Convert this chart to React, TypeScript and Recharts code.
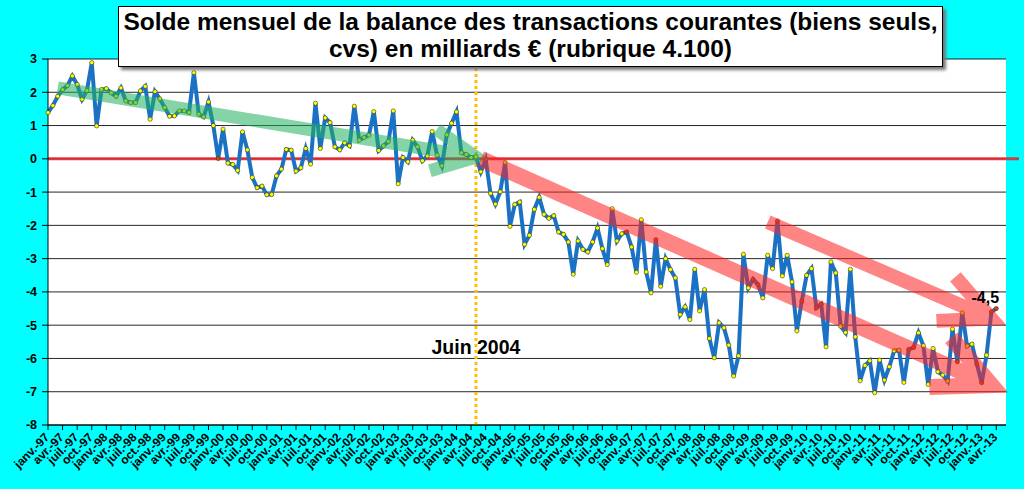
import { LineChart, Line, XAxis, YAxis, CartesianGrid, ReferenceLine } from "recharts"

const moisNoms = ["janv.", "févr.", "mars", "avr.", "mai", "juin", "juil.", "août", "sept.", "oct.", "nov.", "déc."]
const annees = ["97", "98", "99", "00", "01", "02", "03", "04", "05", "06", "07", "08", "09", "10", "11", "12", "13"]

// solde mensuel, milliards €
const solde1997 = [1.39, 1.6, 1.88, 2.08, 2.2, 2.49, 2.23, 1.79, 2.05, 2.89, 0.99, 2.08]
const solde1998 = [2.11, 1.98, 1.88, 2.13, 1.74, 1.69, 1.69, 2.04, 2.18, 1.19, 2.02, 1.8]
const solde1999 = [1.54, 1.28, 1.29, 1.44, 1.44, 1.39, 2.59, 1.34, 1.26, 1.71, 1.0, 0.01]
const solde2000 = [0.89, -0.13, -0.17, -0.35, 0.81, 0.27, -0.56, -0.87, -0.82, -1.08, -1.07, -0.51]
const solde2001 = [-0.31, 0.28, 0.26, -0.37, -0.27, 0.31, -0.16, 1.67, 0.31, 1.23, 1.09, 0.36]
const solde2002 = [0.27, 0.48, 0.39, 1.58, 0.56, 0.64, 0.71, 1.42, 0.25, 0.39, 0.52, 1.44]
const solde2003 = [-0.75, 0.04, -0.09, 0.56, 0.36, -0.06, 0.09, 0.82, 0.11, -0.21, 0.72, 1.07]
const solde2004 = [1.41, 0.18, 0.13, 0.04, 0.06, -0.39, -0.02, -1.04, -1.36, -0.99, -0.11, -2.03]
const solde2005 = [-1.37, -1.3, -2.57, -2.3, -1.52, -1.16, -1.67, -1.79, -1.71, -2.2, -2.27, -2.5]
const solde2006 = [-3.47, -2.47, -2.72, -2.8, -2.5, -2.08, -2.7, -3.18, -1.5, -2.47, -2.25, -2.2]
const solde2007 = [-2.65, -3.41, -1.83, -3.4, -4.03, -2.43, -3.83, -3.0, -3.33, -3.58, -4.68, -4.45]
const solde2008 = [-4.83, -3.32, -4.57, -3.93, -5.4, -5.98, -4.93, -5.08, -5.6, -6.53, -5.92, -2.87]
const solde2009 = [-3.88, -3.62, -3.78, -4.18, -2.9, -3.3, -1.87, -3.52, -2.9, -3.7, -5.17, -4.28]
const solde2010 = [-3.5, -3.3, -4.48, -4.37, -5.65, -3.1, -3.43, -5.03, -5.22, -3.32, -5.35, -6.67]
const solde2011 = [-6.21, -6.07, -7.03, -6.05, -6.65, -6.25, -5.77, -5.75, -6.72, -5.73, -5.67, -5.23]
const solde2012 = [-5.62, -6.78, -5.7, -6.4, -6.5, -6.68, -5.12, -6.1, -4.63, -5.63, -5.57, -6.17]
const solde2013 = [-6.73, -5.9, -4.6, -4.5]

const solde = [
  ...solde1997, ...solde1998, ...solde1999, ...solde2000, ...solde2001, ...solde2002,
  ...solde2003, ...solde2004, ...solde2005, ...solde2006, ...solde2007, ...solde2008,
  ...solde2009, ...solde2010, ...solde2011, ...solde2012, ...solde2013,
]

// points marqués en rouge
const moisRouges = ["déc.-99", "juil.-04", "déc.-06", "juin-07", "févr.-09", "mars-09", "juil.-09", "déc.-09",
  "mars-10", "avr.-10", "oct.-11", "nov.-11", "août-12", "déc.-12", "janv.-13", "mars-13", "avr.-13"]

const yTicks = [-8, -7, -6, -5, -4, -3, -2, -1, 0, 1, 2, 3]

const moisTous: string[] = []
annees.forEach(a => moisNoms.forEach(m => moisTous.push(`${m}-${a}`)))
// l'axe va jusqu'à juin-13
const categories = moisTous.slice(0, 198)

const data = categories.map((m, i) => ({ mois: m, solde: i < solde.length ? solde[i] : null }))

const flecheVerte = [{ x: "mars-97", y: 2.13 }, { x: "mai-04", y: 0.05 }]
const flecheRouge = [{ x: "juin-04", y: 0 }, { x: "mars-13", y: -6.8 }]
const flecheRouge2 = [{ x: "mai-09", y: -1.9 }, { x: "mars-13", y: -4.8 }]
const moisRepere = "mai-04"
const texteRepere = "Juin 2004"

const police = "'Liberation Sans', Arial, sans-serif"

function Fleche(props: any) {
  const { x1, y1, x2, y2, couleur, epaisseur, longueur } = props
  const ang = Math.atan2(y2 - y1, x2 - x1)
  const L = longueur
  const a = 0.45
  const bx1 = x2 - L * Math.cos(ang - a)
  const by1 = y2 - L * Math.sin(ang - a)
  const bx2 = x2 - L * Math.cos(ang + a)
  const by2 = y2 - L * Math.sin(ang + a)
  return (
    <path
      d={`M${x1},${y1}L${x2},${y2}M${bx1},${by1}L${x2},${y2}L${bx2},${by2}`}
      fill="none"
      stroke={couleur}
      strokeOpacity={0.55}
      strokeWidth={epaisseur}
      strokeLinejoin="miter"
    />
  )
}

function LigneZero(props: any) {
  const { x1, y1, x2, y2 } = props
  return <line x1={x1} y1={y1} x2={x2 + 13} y2={y2} stroke="#e8202a" strokeOpacity={0.85} strokeWidth={3} />
}

function TickMois(props: any) {
  const { x, y, payload } = props
  return (
    <text
      x={x + 2}
      y={y + 6}
      transform={`rotate(-45 ${x + 2} ${y + 6})`}
      textAnchor="end"
      fontSize={12}
      fontWeight="bold"
      fontFamily={police}
      fill="#000"
    >
      {payload.value}
    </text>
  )
}

function Point(props: any) {
  const { cx, cy, payload, index } = props
  if (cx == null || cy == null || payload.solde == null) return <g key={`p${index}`} />
  const rouge = moisRouges.includes(payload.mois)
  return <circle key={`p${index}`} cx={cx} cy={cy} r={2.1} fill={rouge ? "#e04010" : "#ffff00"} stroke="#3a3a10" strokeWidth={0.6} />
}

function EtiquetteFin(props: any) {
  const { x, y, index, value } = props
  if (index !== solde.length - 1) return null
  return (
    <text x={x - 11} y={y - 6} textAnchor="middle" fontSize={16} fontWeight="bold" fontFamily={police} fill="#000">
      {String(value).replace(".", ",")}
    </text>
  )
}

export default function App() {
  return (
    <div style={{ position: "fixed", left: 0, top: 0, width: 1024, height: 489, background: "#00ffff", overflow: "hidden" }}>
      <LineChart width={1024} height={489} data={data} margin={{ top: 59, right: 18, bottom: 0, left: 0 }}>
        <CartesianGrid vertical={false} stroke="#000" strokeOpacity={0.85} fill="#ffffff" fillOpacity={1} />
        <XAxis
          dataKey="mois"
          interval={2}
          tick={<TickMois />}
          tickSize={5}
          axisLine={{ stroke: "#000" }}
          tickLine={{ stroke: "#000" }}
          height={64}
        />
        <YAxis
          domain={[-8, 3]}
          ticks={yTicks}
          width={48}
          tickSize={6}
          tickMargin={5}
          axisLine={{ stroke: "#000" }}
          tickLine={{ stroke: "#000" }}
          tick={{ fill: "#000", fontSize: 12.5, fontWeight: "bold", fontFamily: police }}
          allowDataOverflow
        />
        <ReferenceLine y={0} shape={<LigneZero />} />
        <ReferenceLine
          x={moisRepere}
          stroke="#ffc000"
          strokeWidth={3}
          strokeDasharray="3 3"
          label={{ value: texteRepere, position: "insideBottom", offset: 71, fill: "#000", fontSize: 19.5, fontWeight: "bold", fontFamily: police }}
        />
        <Line
          dataKey="solde"
          stroke="#1b72c4"
          strokeWidth={4}
          dot={Point}
          activeDot={false}
          label={EtiquetteFin}
          isAnimationActive={false}
        />
        <ReferenceLine segment={flecheVerte} zIndex={600} shape={<Fleche couleur="#20b060" epaisseur={13} longueur={48} />} />
        <ReferenceLine segment={flecheRouge} zIndex={600} shape={<Fleche couleur="#ff2020" epaisseur={16} longueur={62} />} />
        <ReferenceLine segment={flecheRouge2} zIndex={600} shape={<Fleche couleur="#ff2020" epaisseur={14} longueur={55} />} />
      </LineChart>
      <div
        style={{
          position: "absolute",
          left: 118,
          top: 6,
          width: 823,
          height: 58,
          background: "#fff",
          border: "1px solid #000",
          boxShadow: "3px 3px 3px #777",
          fontFamily: police,
          fontWeight: "bold",
          fontSize: 24.5,
          lineHeight: "27px",
          textAlign: "center",
          paddingTop: 1,
          boxSizing: "content-box",
          color: "#000",
          whiteSpace: "nowrap",
        }}
      >
        Solde mensuel de la balance des transactions courantes (biens seuls,
        <br />
        cvs) en milliards € (rubrique 4.100)
      </div>
    </div>
  )
}
